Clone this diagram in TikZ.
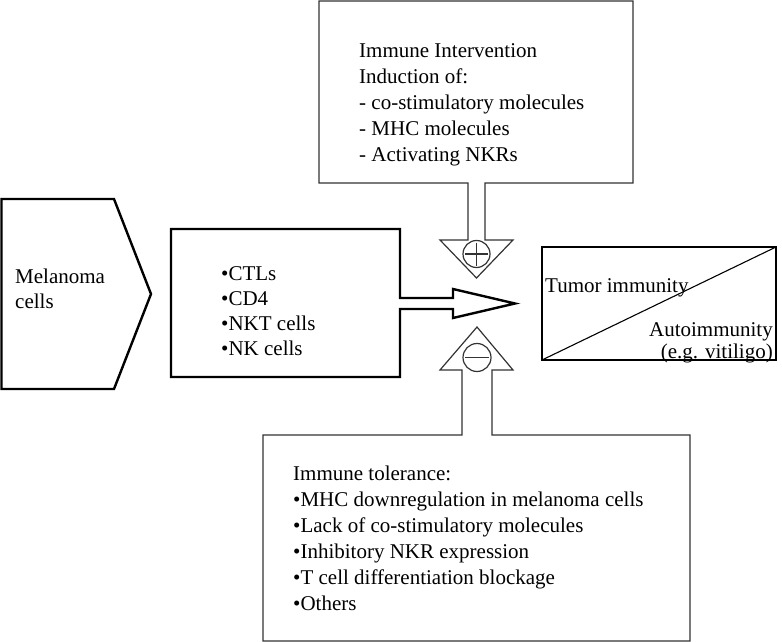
\documentclass[tikz,border=0pt]{standalone}
\usepackage{fontspec}
\setmainfont{Liberation Serif}
\begin{document}
\begin{tikzpicture}[x=1pt,y=-1pt,
  thickline/.style={draw=black,line width=2.4pt,line join=miter},
  thinline/.style={draw=black!80,line width=1.2pt,line join=miter},
  txt/.style={inner sep=0pt,anchor=base west,align=left,font=\fontsize{21}{25}\selectfont},
  txtwide/.style={txt,font=\fontsize{21}{26}\selectfont}]
\useasboundingbox (0,0) rectangle (782,642);
% Melanoma pentagon
\draw[thickline] (1.5,199) -- (114,199) -- (151,294) -- (114,389) -- (1.5,389) -- cycle;
\node[txt] (mel) at (15,308) {Melanoma\\cells};
% middle box with block arrow
\draw[thickline] (171,229) -- (400,229) -- (400,298) -- (453,298) -- (453,289) -- (515,303.5)
  -- (453,318) -- (453,309) -- (400,309) -- (400,377) -- (171,377) -- cycle;
\node[txt] (cells) at (221,355) {•CTLs\\•CD4\\•NKT cells\\•NK cells};
% top box with plus arrow
\draw[thinline] (319,1) -- (633,1) -- (633,183) -- (485,183) -- (485,240) -- (513,240)
  -- (476.5,278) -- (440,240) -- (468,240) -- (468,183) -- (319,183) -- cycle;
\draw[thinline] (476.5,254) circle (13.5);
\draw[thinline] (465,254) -- (488,254) (476.5,242.5) -- (476.5,265.5);
\node[txtwide] (interv) at (359,161) {Immune Intervention\\Induction of:\\- co-stimulatory molecules\\- MHC molecules\\- Activating NKRs};
% bottom box with minus arrow
\draw[thinline] (263,435) -- (462,435) -- (462,370) -- (440,370) -- (477,327) -- (513,370)
  -- (492,370) -- (492,435) -- (690,435) -- (690,641) -- (263,641) -- cycle;
\draw[thinline] (477,357.5) circle (14);
\draw[thinline] (465,357.5) -- (489,357.5);
\node[txtwide] (toler) at (293,610) {Immune tolerance:\\•MHC downregulation in melanoma cells\\•Lack of co-stimulatory molecules\\•Inhibitory NKR expression\\•T cell differentiation blockage\\•Others};
% outcome box
\draw[draw=black,line width=2pt] (542,247) rectangle (776,360);
\draw[line width=1.1pt] (542,360) -- (776,247);
\node[txt] (tumor) at (545,292) {Tumor immunity};
\node[inner sep=0pt,anchor=base east,align=right,font=\fontsize{21}{22}\selectfont] (auto) at (773,358) {Autoimmunity\\(e.g. vitiligo)};
\end{tikzpicture}
\end{document}
